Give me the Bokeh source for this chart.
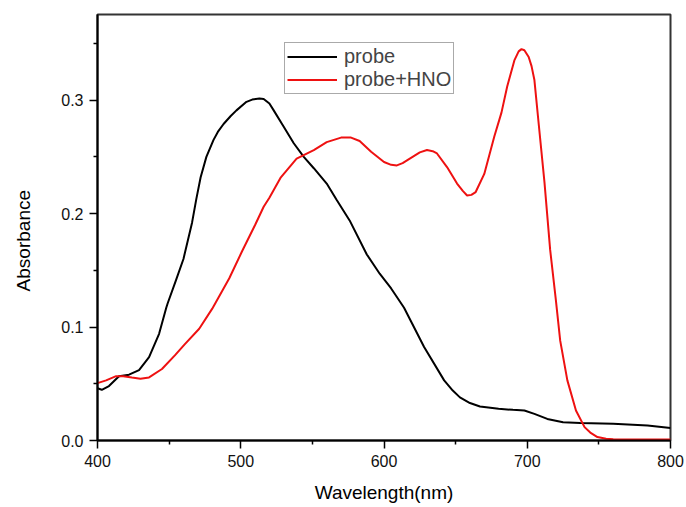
from bokeh.plotting import figure
from bokeh.models import Range1d, FixedTicker, Legend
from bokeh.embed import file_html
from bokeh.resources import INLINE

# ---- data ----
wl_probe = [400, 403, 408, 415, 422, 429, 436, 443, 448, 449, 455, 460, 466, 469, 472,
            476, 481, 484, 488, 493, 497, 504, 508, 513, 516, 520, 523, 530, 537, 544,
            551, 560, 567, 576, 588, 597, 605, 614, 628, 642, 648, 653, 660, 667, 680,
            690, 698, 705, 714, 725, 737, 760, 784, 800]
abs_probe = [0.046, 0.0447, 0.048, 0.0567, 0.058, 0.062, 0.0735, 0.094, 0.117, 0.121,
             0.142, 0.160, 0.192, 0.213, 0.232, 0.25, 0.265, 0.272, 0.279, 0.286, 0.291,
             0.2985, 0.3005, 0.3015, 0.301, 0.297, 0.291, 0.2765, 0.262, 0.25, 0.24,
             0.2265, 0.212, 0.194, 0.164, 0.147, 0.134, 0.117, 0.0824, 0.053, 0.044,
             0.038, 0.033, 0.030, 0.028, 0.027, 0.0265, 0.0235, 0.019, 0.016, 0.0155,
             0.0147, 0.0132, 0.011]

wl_hno = [400, 406, 413, 418, 424, 430, 436, 445, 454, 461, 471, 480, 492, 501, 510,
          516, 520, 528, 539, 551, 560, 570, 577, 583, 591, 600, 605, 609, 613, 618,
          625, 630, 634, 637, 644, 651, 655, 658, 661, 664, 670, 677, 682, 686, 691,
          694, 696, 698, 701, 703, 705, 708, 712, 716, 720, 723, 728, 734, 740, 744,
          749, 755, 760, 800]
abs_hno = [0.0506, 0.053, 0.0567, 0.0567, 0.0555, 0.0544, 0.0556, 0.063, 0.075, 0.085,
           0.0985, 0.116, 0.143, 0.167, 0.19, 0.206, 0.214, 0.232, 0.2485, 0.256,
           0.263, 0.267, 0.267, 0.264, 0.2545, 0.2455, 0.243, 0.2425, 0.2445, 0.2485,
           0.254, 0.256, 0.255, 0.253, 0.241, 0.2265, 0.22, 0.216, 0.2165, 0.219,
           0.235, 0.268, 0.289, 0.312, 0.335, 0.343, 0.345, 0.344, 0.338, 0.33,
           0.3177, 0.279, 0.228, 0.168, 0.1235, 0.088, 0.053, 0.0265, 0.0118, 0.007,
           0.003, 0.0015, 0.001, 0.0008]

x_ticks = [400, 500, 600, 700, 800]
x_minor = [450, 550, 650, 750]
y_ticks = [0.0, 0.1, 0.2, 0.3]
y_minor = [0.05, 0.15, 0.25, 0.35]
y_tick_labels = {0.0: "0.0", 0.1: "0.1", 0.2: "0.2", 0.3: "0.3"}

FONT = "Liberation Sans"

p = figure(width=684, height=505, output_backend="svg", toolbar_location=None,
           x_range=Range1d(400, 800), y_range=Range1d(0, 0.3755),
           min_border_left=97, min_border_right=14, min_border_top=14, min_border_bottom=65)
p.background_fill_color = "white"
p.border_fill_color = "white"
p.outline_line_color = "#333333"
p.outline_line_width = 2
p.grid.visible = False

p.xaxis.ticker = FixedTicker(ticks=x_ticks, minor_ticks=x_minor)
p.yaxis.ticker = FixedTicker(ticks=y_ticks, minor_ticks=y_minor)
p.yaxis.major_label_overrides = y_tick_labels
for ax in (p.xaxis[0], p.yaxis[0]):
    ax.axis_line_width = 2
    ax.axis_line_color = "black"
    ax.major_tick_line_width = 1.5
    ax.minor_tick_line_width = 1.5
    ax.major_tick_in = 0
    ax.major_tick_out = 8
    ax.minor_tick_in = 0
    ax.minor_tick_out = 4
    ax.major_label_text_font = FONT
    ax.major_label_text_font_size = "16px"
    ax.major_label_text_color = "#111111"
    ax.major_label_standoff = 6
    ax.axis_label_text_font = FONT
    ax.axis_label_text_font_size = "19px"
    ax.axis_label_text_font_style = "normal"
    ax.axis_label_text_color = "black"

p.xaxis.axis_label = "Wavelength(nm)"
p.xaxis.axis_label_standoff = 12
p.yaxis.axis_label = "Absorbance" + "\u00a0" * 5
p.yaxis.axis_label_standoff = 24

r1 = p.line(wl_probe, abs_probe, line_color="black", line_width=2)
r2 = p.line(wl_hno, abs_hno, line_color="#ee1111", line_width=2)

legend = Legend(items=[("probe", [r1]), ("probe+HNO", [r2])], location=(187, 346))
legend.label_text_font = FONT
legend.label_text_font_size = "20px"
legend.label_standoff = 7
legend.glyph_width = 50
legend.glyph_height = 23
legend.label_height = 23
legend.spacing = 0
legend.padding = 2
legend.margin = 0
legend.border_line_color = "#555555"
legend.border_line_width = 1
legend.background_fill_alpha = 1
p.add_layout(legend, "center")

open("out.html", "w").write(file_html(p, INLINE))
